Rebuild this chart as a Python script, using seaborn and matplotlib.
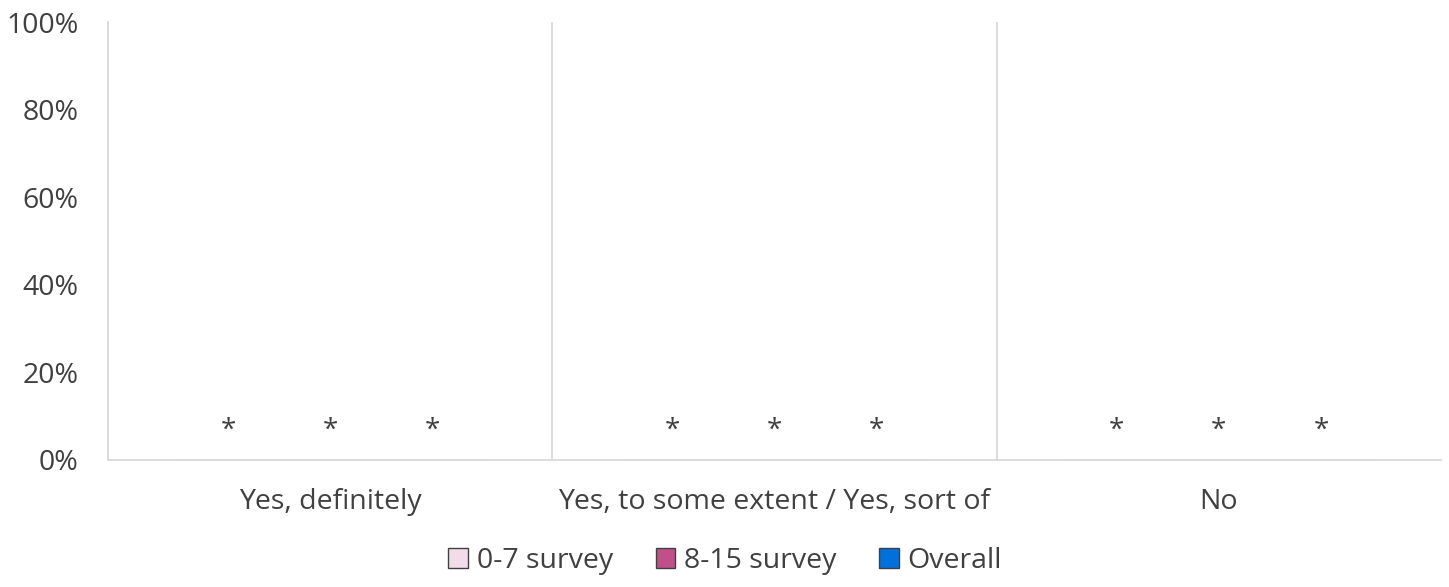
import pandas as pd
import matplotlib.pyplot as plt
import seaborn as sns
from matplotlib.ticker import PercentFormatter

# Chart data: all values suppressed (shown as "*")
categories = ["Yes, definitely", "Yes, to some extent / Yes, sort of", "No"]
series = ["0-7 survey", "8-15 survey", "Overall"]
values_0_7 = [0, 0, 0]
values_8_15 = [0, 0, 0]
values_overall = [0, 0, 0]
labels = ["*", "*", "*"]

colors = ["#F2DCEA", "#C0508A", "#0070DD"]

df = pd.DataFrame({
    "category": categories * 3,
    "series": [series[0]] * 3 + [series[1]] * 3 + [series[2]] * 3,
    "value": values_0_7 + values_8_15 + values_overall,
})

sns.set_theme(style="white")
plt.rcParams["font.family"] = ["Open Sans", "DejaVu Sans"]

fig = plt.figure(figsize=(14.49, 5.87), dpi=100)
ax = fig.add_axes([0.0745, 0.2164, 0.92, 0.7461])

sns.barplot(data=df, x="category", y="value", hue="series", palette=colors,
            saturation=1, width=0.69, edgecolor="#404040", linewidth=1, ax=ax)

# suppressed values shown as asterisks
for cont in ax.containers:
    ax.bar_label(cont, labels=labels, padding=11, fontsize=20, color="#404040")

ax.set_ylim(0, 1)
ax.set_xlim(-0.5, 2.5)
ax.yaxis.set_major_formatter(PercentFormatter(1.0, decimals=0))
ax.set_yticks([0, 0.2, 0.4, 0.6, 0.8, 1.0])
ax.tick_params(axis="y", labelsize=20.5, labelcolor="#404040", length=0, pad=21)
ax.tick_params(axis="x", labelsize=20.5, labelcolor="#404040", length=0, pad=20)
ax.set_xlabel("")
ax.set_ylabel("")

# category separators
for xpos in [0.5, 1.5]:
    ax.axvline(xpos, color="#D9D9D9", linewidth=1.3)

for side in ["top", "right"]:
    ax.spines[side].set_visible(False)
ax.spines["left"].set_color("#D9D9D9")
ax.spines["bottom"].set_color("#D9D9D9")
ax.spines["left"].set_linewidth(1.3)
ax.spines["bottom"].set_linewidth(1.3)

handles, lbls = ax.get_legend_handles_labels()
ax.legend(handles, lbls, loc="center", bbox_to_anchor=(0.463, -0.23),
          ncol=3, frameon=False, fontsize=20.5, handlelength=0.7, handleheight=0.7,
          handletextpad=0.3, columnspacing=1.5, labelcolor="#404040")

fig.savefig("out.png", dpi=100)
